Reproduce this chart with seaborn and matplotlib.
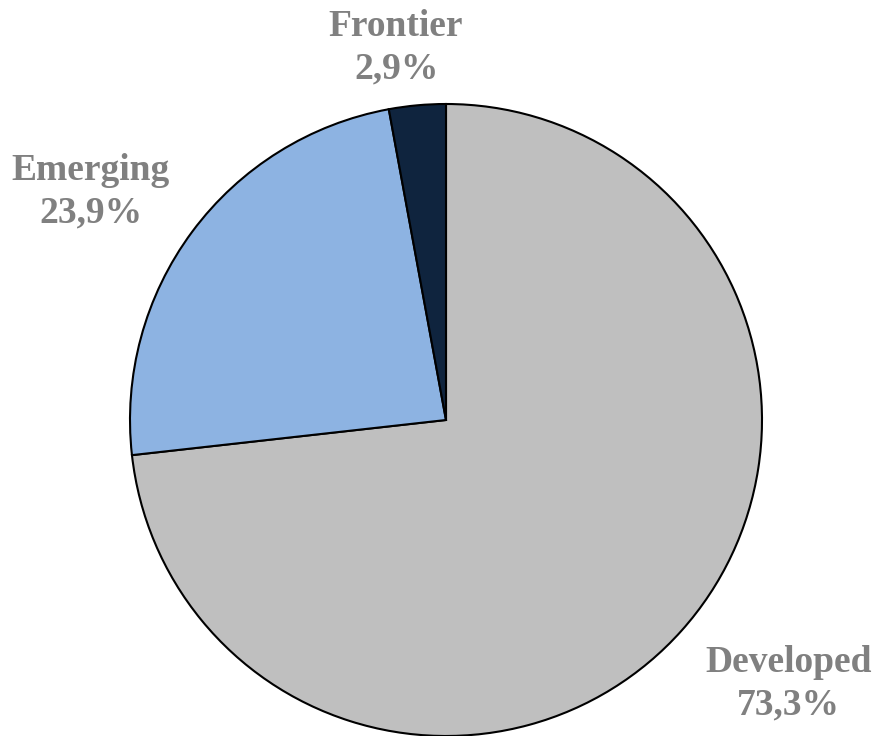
import matplotlib
matplotlib.use("Agg")
import matplotlib.pyplot as plt
import seaborn as sns

# market share by category
categories = ["Developed", "Emerging", "Frontier"]
shares = [73.3, 23.9, 2.9]
pct_labels = ["73,3%", "23,9%", "2,9%"]
colors = ["#BFBFBF", "#8DB3E2", "#0F243E"]

sns.set_style("white")
plt.rcParams["font.family"] = ["Liberation Serif", "DejaVu Serif"]

fig = plt.figure(figsize=(8.74, 7.36), dpi=100)
ax = fig.add_axes([130 / 874, 0, 632 / 874, 632 / 736])

ax.pie(shares, colors=colors, startangle=90, counterclock=False, radius=1,
       wedgeprops=dict(edgecolor="black", linewidth=1.5))

# label positions (data units of the pie)
label_pos = [(1.085, -0.835), (-1.125, 0.722), (-0.158, 1.178)]
for cat, pct, (x, y) in zip(categories, pct_labels, label_pos):
    ax.text(x, y, f"{cat}\n{pct}", ha="center", va="center", fontsize=27,
            fontweight="bold", color="#808080", linespacing=1.25)

ax.set_xlim(-1, 1)
ax.set_ylim(-1, 1)
ax.set_aspect("equal")
ax.axis("off")

fig.savefig("out.png", dpi=100)
